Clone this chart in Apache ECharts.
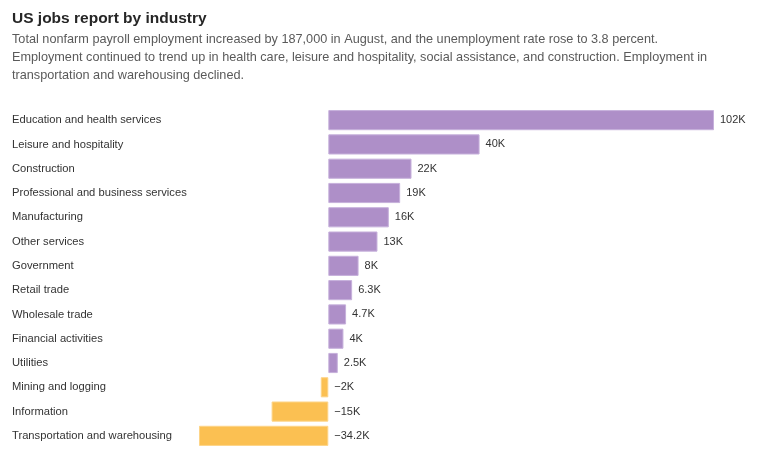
<!DOCTYPE html>
<html><head><meta charset="utf-8">
<script src="https://cdn.jsdelivr.net/npm/echarts@6/dist/echarts.min.js"></script>
<style>html,body{margin:0;padding:0;background:#fff}#c{width:760px;height:456px}</style>
</head><body><div id="c"></div>
<script>
const categories = ["Education and health services","Leisure and hospitality","Construction","Professional and business services","Manufacturing","Other services","Government","Retail trade","Wholesale trade","Financial activities","Utilities","Mining and logging","Information","Transportation and warehousing"];
const values = [102, 40, 22, 19, 16, 13, 8, 6.3, 4.7, 4, 2.5, -2, -15, -34.2];
const title = "US jobs report by industry";
const subtitle = "Total nonfarm payroll employment increased by 187,000 in August, and the unemployment rate rose to 3.8 percent.\nEmployment continued to trend up in health care, leisure and hospitality, social assistance, and construction. Employment in\ntransportation and warehousing declined.";

const fmt = v => (v < 0 ? "\u2212" : "") + Math.abs(v) + "K";
const chart = echarts.init(document.getElementById('c'), null, {renderer:'canvas'});
chart.setOption({
  animation:false,
  backgroundColor:'#fff',
  title:{
    text:title, subtext:subtitle, left:7, top:6,
    textStyle:{fontFamily:'Liberation Sans, Arial, sans-serif', fontWeight:'bold', fontSize:15.5, color:'#262626'},
    subtextStyle:{fontFamily:'Liberation Sans, Arial, sans-serif', fontSize:12.7, color:'#5a5a5a', lineHeight:18},
    itemGap:3
  },
  grid:{left:199, right:46, top:108, bottom:8, containLabel:false},
  xAxis:{type:'value', min:Math.min(...values), max:Math.max(...values), show:false},
  yAxis:{type:'category', data:categories, inverse:true,
    axisLine:{show:false}, axisTick:{show:false},
    axisLabel:{align:'left', margin:187, fontFamily:'Liberation Sans, Arial, sans-serif', fontSize:11.2, color:'#333'}},
  series:[{
    type:'bar', barCategoryGap:'17%',
    data: values.map(v => ({value:v, itemStyle:{
      color: v < 0 ? '#fbc052' : '#ae8fc8',
      borderColor: v < 0 ? '#fdd488' : '#c6b0db', borderWidth:1}})),
    label:{show:true, position:'right', distance:6, formatter:p => fmt(p.value),
      fontFamily:'Liberation Sans, Arial, sans-serif', fontSize:11, color:'#333'}
  }]
});
</script></body></html>
